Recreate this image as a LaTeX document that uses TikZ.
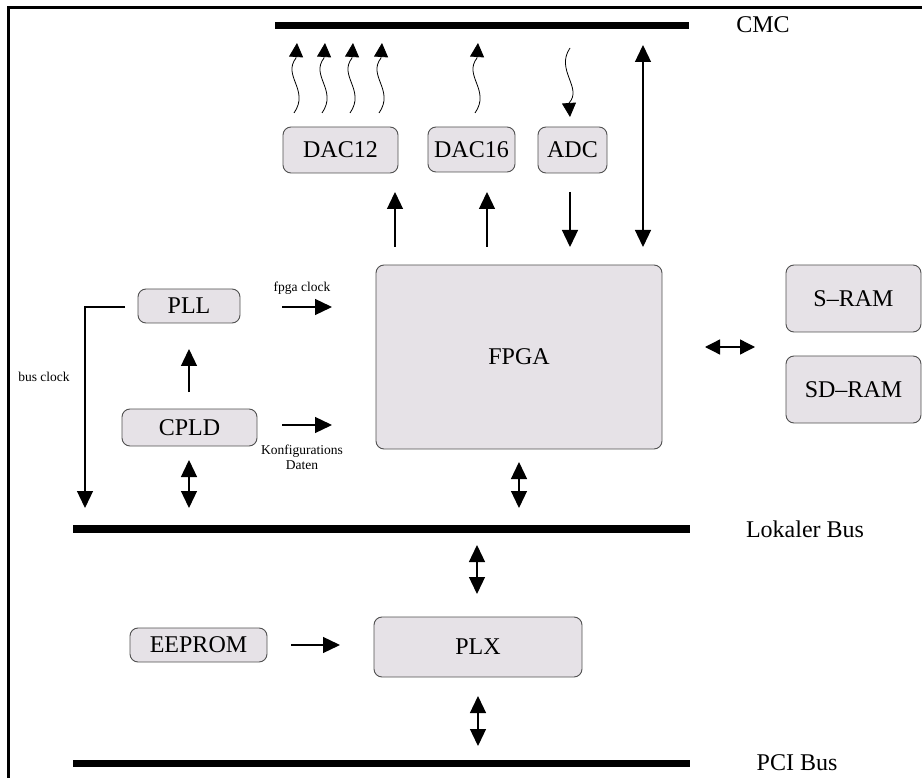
\documentclass[tikz,border=0pt]{standalone}
\usepackage{fontspec}
\setmainfont{Liberation Serif}
\usetikzlibrary{arrows.meta}
\definecolor{boxfill}{RGB}{230,226,231}
\definecolor{boxline}{RGB}{80,80,80}
\begin{document}
\begin{tikzpicture}[x=1pt,y=-1pt,
  box/.style={draw=boxline, fill=boxfill, rounded corners=8pt, line width=0.9pt, inner sep=0pt,
    font=\fontsize{24}{28}\selectfont},
  busbar/.style={line width=7.5pt},
  buslabel/.style={font=\fontsize{24}{28}\selectfont, inner sep=0pt},
  small/.style={font=\fontsize{13.5}{15}\selectfont, inner sep=0pt, align=center},
  arr/.style={line width=1.3pt, -{Triangle[length=17pt,width=16pt]}},
  darr/.style={line width=1.3pt, {Triangle[length=17pt,width=16pt]}-{Triangle[length=17pt,width=16pt]}},
  wave/.style={line width=0.8pt, -{Triangle[length=14pt,width=14pt]}}]
\useasboundingbox (0,0) rectangle (922,778);
% frame
\draw[line width=3pt] (922,7.5) -- (8,7.5) -- (8,778);

% buses
\coordinate (cmcL) at (275,25.5);
\coordinate (cmcR) at (689,25.5);
\coordinate (lbL) at (73,529);
\coordinate (lbR) at (690,529);
\coordinate (pciL) at (73,763.5);
\coordinate (pciR) at (690,763.5);
\draw[busbar] (cmcL) -- (cmcR);
\draw[busbar] (lbL) -- (lbR);
\draw[busbar] (pciL) -- (pciR);
\node[buslabel] (cmc) at (763,25) {CMC};
\node[buslabel] (lbus) at (805,529) {Lokaler Bus};
\node[buslabel] (pci) at (797,763) {PCI Bus};

% boxes
\node[box, minimum width=115pt, minimum height=46pt] (dac12) at (340.5,150) {DAC12};
\node[box, minimum width=87pt, minimum height=45pt] (dac16) at (471.5,149.5) {DAC16};
\node[box, minimum width=69pt, minimum height=46pt] (adc) at (572.5,150) {ADC};
\node[box, minimum width=286pt, minimum height=184pt] (fpga) at (519,357) {FPGA};
\node[box, minimum width=135pt, minimum height=67pt] (sram) at (853.5,298.5) {S\textendash RAM};
\node[box, minimum width=135pt, minimum height=67pt] (sdram) at (853.5,389.5) {SD\textendash RAM};
\node[box, minimum width=102pt, minimum height=34pt] (pll) at (189,306) {PLL};
\node[box, minimum width=135pt, minimum height=37pt] (cpld) at (189.5,427.5) {CPLD};
\node[box, minimum width=137pt, minimum height=34pt] (eeprom) at (198.5,645) {EEPROM};
\node[box, minimum width=208pt, minimum height=60pt] (plx) at (478,647) {PLX};

% small labels
\node[small] (fclk) at (302,288) {fpga clock};
\node[small] (konf) at (302,457) {Konfigurations\\Daten};
\node[small] (bclk) at (44,377) {bus clock};

% arrows FPGA <-> DAC/ADC/CMC
\coordinate (a1s) at (395,247); \coordinate (a1e) at (395,192);
\coordinate (a2s) at (487,247); \coordinate (a2e) at (487,192);
\coordinate (a3s) at (570,192); \coordinate (a3e) at (570,247);
\coordinate (a4s) at (643,45);  \coordinate (a4e) at (643,247);
\draw[arr] (a1s) -- (a1e);
\draw[arr] (a2s) -- (a2e);
\draw[arr] (a3s) -- (a3e);
\draw[darr] (a4s) -- (a4e);

% wavy lines
\foreach \x in {297,325,353,382,478}{
  \draw[wave] (\x-3,113) .. controls (\x+13,90) and (\x-15,76) .. (\x-1,58) -- (\x,43);
}
\draw[wave] (570,48) .. controls (555,70) and (583,88) .. (569,103) -- (570,117);

% PLL / CPLD
\coordinate (fcs) at (282,307); \coordinate (fce) at (332,307);
\coordinate (kds) at (282,425); \coordinate (kde) at (332,425);
\coordinate (cps) at (189,392); \coordinate (cpe) at (189,349);
\coordinate (cbs) at (189,460); \coordinate (cbe) at (189,508);
\coordinate (bcs) at (125,307); \coordinate (bcm) at (85,307); \coordinate (bce) at (85,508);
\draw[arr] (fcs) -- (fce);
\draw[arr] (kds) -- (kde);
\draw[arr] (cps) -- (cpe);
\draw[darr] (cbs) -- (cbe);
\draw[arr] (bcs) -- (bcm) -- (bce);

% FPGA <-> bus, RAM
\coordinate (fbs) at (519,462); \coordinate (fbe) at (519,508);
\coordinate (frs) at (705,347); \coordinate (fre) at (755,347);
\draw[darr] (fbs) -- (fbe);
\draw[line width=1.3pt, {Triangle[length=15pt,width=15pt]}-{Triangle[length=15pt,width=15pt]}] (frs) -- (fre);

% PLX
\coordinate (lps) at (477,545); \coordinate (lpe) at (477,594);
\coordinate (pps) at (478,696); \coordinate (ppe) at (478,746);
\coordinate (eps) at (291,645); \coordinate (epe) at (340,645);
\draw[darr] (lps) -- (lpe);
\draw[darr] (pps) -- (ppe);
\draw[arr] (eps) -- (epe);
\end{tikzpicture}
\end{document}
